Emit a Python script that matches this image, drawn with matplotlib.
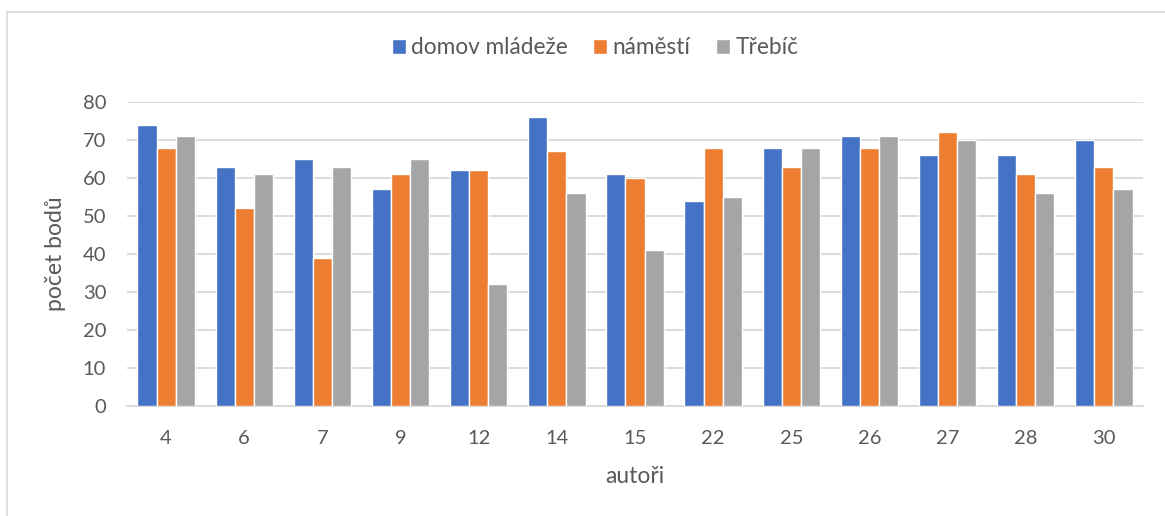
import matplotlib
matplotlib.use("Agg")
import matplotlib.pyplot as plt
import numpy as np
from matplotlib.patches import Rectangle

categories = ["4", "6", "7", "9", "12", "14", "15", "22", "25", "26", "27", "28", "30"]
domov = [74, 63, 65, 57, 62, 76, 61, 54, 68, 71, 66, 66, 70]
namesti = [68, 52, 39, 61, 62, 67, 60, 68, 63, 68, 72, 61, 63]
trebic = [71, 61, 63, 65, 32, 56, 41, 55, 68, 71, 70, 56, 57]
series_names = ["domov mládeže", "náměstí", "Třebíč"]
colors = ["#4472C4", "#ED7D31", "#A5A5A5"]
yticks = [0, 10, 20, 30, 40, 50, 60, 70, 80]

plt.rcParams['font.family'] = ['Lato', 'DejaVu Sans']
text_color = "#595959"

W, H = 1165, 516
fig = plt.figure(figsize=(W/100, H/100), dpi=100)
ax = fig.add_axes([127/W, 1-406/H, (1143-127)/W, (406-102)/H])

# outer chart border
fig.patches.append(Rectangle((7/W, -0.1), 1.2, 1-12/H+0.1, transform=fig.transFigure,
                             fill=False, edgecolor="#d9d9d9", linewidth=1.2))

x = np.arange(len(categories))
bw = 0.245
for i, (vals, name, c) in enumerate(zip([domov, namesti, trebic], series_names, colors)):
    ax.bar(x + (i-1)*bw, vals, width=bw, color=c, edgecolor="white", linewidth=1.0,
           label=name, zorder=3)

ax.set_xlim(-0.5, len(categories)-0.5)
ax.set_ylim(0, 80)
ax.set_yticks(yticks)
ax.set_xticks(x)
ax.set_xticklabels(categories)
ax.grid(axis='y', color="#d9d9d9", linewidth=1.3, zorder=0)
ax.set_axisbelow(True)
for s in ["top", "right", "left"]:
    ax.spines[s].set_visible(False)
ax.spines["bottom"].set_color("#d9d9d9")
ax.spines["bottom"].set_linewidth(1.3)
ax.tick_params(axis='both', length=0, labelsize=14.5, labelcolor=text_color)
ax.tick_params(axis='x', pad=17)
ax.tick_params(axis='y', pad=15)
ax.set_xlabel("autoři", fontsize=16.5, color=text_color, labelpad=14)
ax.set_ylabel("počet bodů", fontsize=16.5, color=text_color, labelpad=12)

leg = fig.legend(loc="center", bbox_to_anchor=(595/W, 1-48/H), ncol=3, frameon=False,
                 fontsize=16.3, handlelength=0.62, handleheight=0.62, handletextpad=0.25,
                 columnspacing=1.1)
for t in leg.get_texts():
    t.set_color(text_color)

fig.savefig("out.png", dpi=100, facecolor="white")
